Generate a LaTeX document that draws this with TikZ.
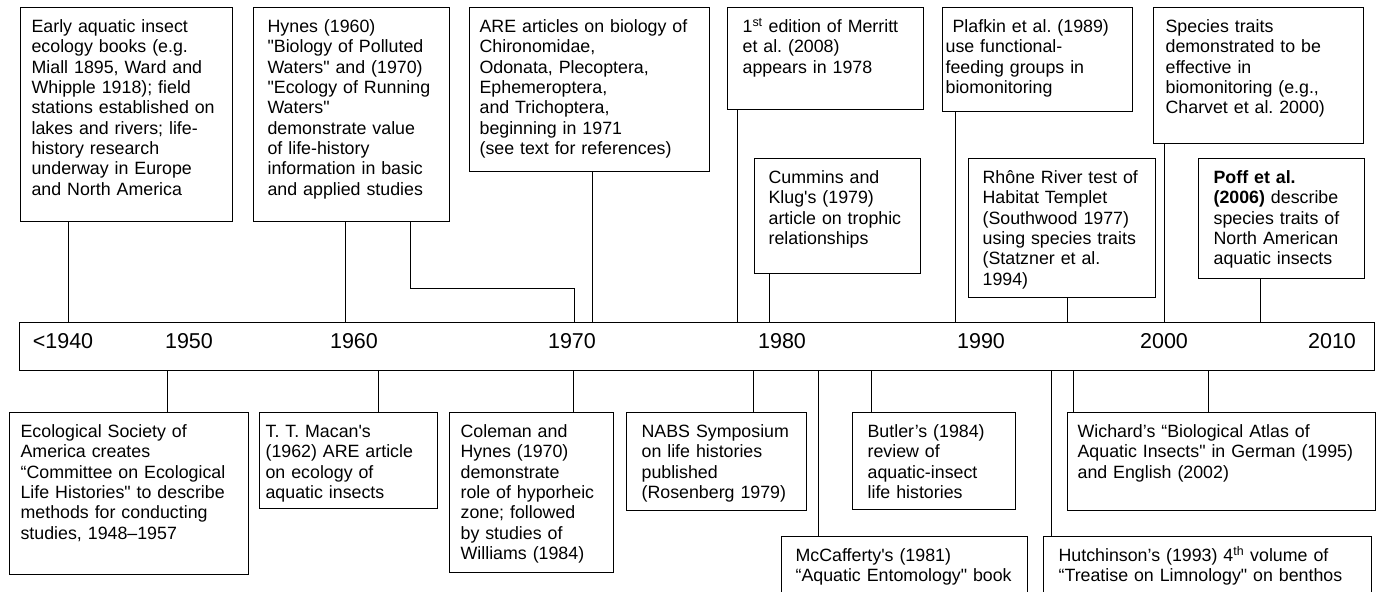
\documentclass[tikz,border=0pt]{standalone}
\usepackage{fontspec}
\setmainfont{Liberation Sans}[Ligatures=TeXReset]
\usepackage{tikz}
\usetikzlibrary{calc}
\frenchspacing
\newcommand{\boxfont}{\fontsize{17.8}{20.3}\selectfont}
\newcommand{\yearfont}{\fontsize{21.5}{24}\selectfont}
\tikzstyle{event}     = [draw=black, line width=1.2pt, anchor=north west, align=left, inner xsep=11pt, inner ysep=0pt, text height=25pt, font=\boxfont]
\tikzstyle{link}      = [line width=1pt]
\tikzstyle{yearlabel} = [anchor=base, inner sep=0pt, font=\yearfont]

\begin{document}
\begin{tikzpicture}[x=1pt, y=-1pt]
		\useasboundingbox (0,0) rectangle (1377,592);
		% events above the time line
		\node[event, text width=190pt, text depth=189pt] (early) at (20,7) {Early aquatic insect\\ecology books (e.g.\\Miall 1895, Ward and\\Whipple 1918); field\\stations established on\\lakes and rivers; life-\\history research\\underway in Europe\\and North America};
		\node[event, inner xsep=14pt, text width=168pt, text depth=189pt] (hynes) at (253,7) {Hynes (1960)\\"Biology of Polluted\\Waters" and (1970)\\"Ecology of Running\\Waters"\\demonstrate value\\of life-history\\information in basic\\and applied studies};
		\node[event, inner xsep=10pt, text width=220pt, text depth=139pt] (are) at (469,7) {ARE articles on biology of\\Chironomidae,\\Odonata, Plecoptera,\\Ephemeroptera,\\and Trichoptera,\\beginning in 1971\\(see text for references)};
		\node[event, inner xsep=15pt, text width=166pt, text depth=77pt] (merritt) at (727,7) {1\textsuperscript{st} edition of Merritt\\et al. (2008)\\appears in 1978};
		\node[event, inner xsep=14pt, text width=138pt, text depth=90pt] (cummins) at (754,158) {Cummins and\\Klug's (1979)\\article on trophic\\relationships};
		\node[event, inner xsep=3pt, text width=184pt, text depth=79pt] (plafkin) at (942,7) {\hspace*{7pt}Plafkin et al. (1989)\\use functional-\\feeding groups in\\biomonitoring};
		\node[event, inner xsep=14pt, text width=159pt, text depth=114pt] (rhone) at (968,158) {Rhône River test of\\Habitat Templet\\(Southwood 1977)\\using species traits\\(Statzner et al.\\1994)};
		\node[event, inner xsep=12pt, text width=186pt, text depth=111pt] (species) at (1153,7) {Species traits\\demonstrated to be\\effective in\\biomonitoring (e.g.,\\Charvet et al. 2000)};
		\node[event, inner xsep=15pt, text width=136pt, text depth=95pt] (poff) at (1198,158) {\textbf{Poff et al.}\\\textbf{(2006)} describe\\species traits of\\North American\\aquatic insects};
		% time line
		\node[draw=black, line width=1.2pt, anchor=north west, inner sep=0pt, minimum width=1355pt, minimum height=48pt] (axis) at (19,322) {};
		\foreach \yr/\x [count=\i] in {<1940/63, 1950/189, 1960/354, 1970/572, 1980/782, 1990/981, 2000/1164, 2010/1332}
			\node[yearlabel] (year\i) at (\x,348) {\yr};
		% events below the time line
		\node[event, text width=217pt, text depth=137pt] (esa) at (9,412) {Ecological Society of\\America creates\\“Committee on Ecological\\Life Histories" to describe\\methods for conducting\\studies, 1948–1957};
		\node[event, inner xsep=6pt, text width=166pt, text depth=71pt] (macan) at (259,412) {T. T. Macan's\\(1962) ARE article\\on ecology of\\aquatic insects};
		\node[event, text width=142pt, text depth=135pt] (coleman) at (449,412) {Coleman and\\Hynes (1970)\\demonstrate\\role of hyporheic\\zone; followed\\by studies of\\Williams (1984)};
		\node[event, inner xsep=15pt, text width=150pt, text depth=73pt] (nabs) at (626,412) {NABS Symposium\\on life histories\\published\\(Rosenberg 1979)};
		\node[event, inner xsep=14pt, text width=218pt, text depth=45pt] (mccafferty) at (781,536) {McCafferty's (1981)\\“Aquatic Entomology" book};
		\node[event, inner xsep=15pt, text width=133pt, text depth=72pt] (butler) at (852,412) {Butler’s (1984)\\review of\\aquatic-insect\\life histories};
		\node[event, inner xsep=15pt, text width=298pt, text depth=45pt] (hutchinson) at (1043,536) {Hutchinson’s (1993) 4\textsuperscript{th} volume of\\“Treatise on Limnology" on benthos};
		\node[event, inner xsep=10pt, text width=288pt, text depth=73pt] (wichard) at (1067,412) {Wichard’s “Biological Atlas of\\Aquatic Insects" in German (1995)\\and English (2002)};
		% connectors
		\foreach \n/\x in {early/68, hynes/345, are/592, merritt/737, cummins/769, plafkin/955, rhone/1067, species/1164, poff/1260}
			\draw[link] (\n.south -| \x,0) -- (axis.north -| \x,0);
		\coordinate (bend) at (574,288);
		\draw[link] (hynes.south -| 410,0) |- (bend) -- (axis.north -| bend);
		\foreach \n/\x in {esa/167, macan/378, coleman/573, nabs/753, mccafferty/818, butler/871, hutchinson/1051, wichard/1073, wichard/1208}
			\draw[link] (axis.south -| \x,0) -- (\n.north -| \x,0);
	\end{tikzpicture}
\end{document}
